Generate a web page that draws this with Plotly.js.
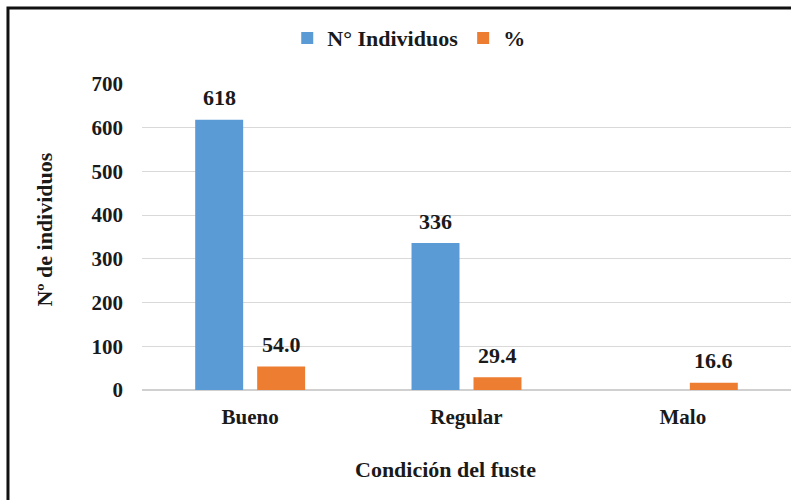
<!DOCTYPE html>
<html>
<head>
<meta charset="utf-8">
<script src="https://cdn.plot.ly/plotly-3.0.1.min.js"></script>
<style>html,body{margin:0;padding:0;background:#fff}#chart{width:791px;height:500px}</style>
</head>
<body>
<div id="chart"></div>
<script>
const categories = ["Bueno", "Regular", "Malo"];
const individuos = [618, 336, null];
const porcentaje = [54.0, 29.4, 16.6];
const seriesNames = ["N° Individuos", "%"];
const yTicks = [0, 100, 200, 300, 400, 500, 600, 700];

const FONT = "Liberation Serif";
const TXT = "#1a1a1a";

const traces = [
  {
    type: "bar", name: seriesNames[0], x: categories, y: individuos,
    marker: {color: "#5B9BD5"}, hoverinfo: "x+y"
  },
  {
    type: "bar", name: seriesNames[1], x: categories, y: porcentaje,
    marker: {color: "#ED7D31"}, hoverinfo: "x+y"
  }
];

const labelFont = {family: FONT, size: 22, color: TXT, weight: "bold"};
const annotations = [];
categories.forEach((c, i) => {
  if (individuos[i] != null) {
    annotations.push({x: c, y: individuos[i], xref: "x", yref: "y", xshift: -31, yshift: 22,
      text: String(individuos[i]), showarrow: false, yanchor: "middle", font: labelFont});
  }
  annotations.push({x: c, y: porcentaje[i], xref: "x", yref: "y", xshift: 31, yshift: 22,
    text: porcentaje[i].toFixed(1), showarrow: false, yanchor: "middle", font: labelFont});
});
annotations.push(
  {text: "Nº de individuos", xref: "paper", yref: "paper", x: -0.150, y: 0.523,
   xanchor: "center", yanchor: "middle", textangle: -90, showarrow: false,
   font: {family: FONT, size: 22, color: TXT, weight: "bold"}},
  {text: "Condición del fuste", xref: "paper", yref: "paper", x: 0.467, y: -0.261,
   xanchor: "center", yanchor: "middle", showarrow: false,
   font: {family: FONT, size: 22, color: TXT, weight: "bold"}}
);

const layout = {
  width: 791, height: 500,
  margin: {l: 142, r: 0, t: 84, b: 110},
  paper_bgcolor: "#fff", plot_bgcolor: "#fff",
  font: {family: FONT, color: TXT, size: 20, weight: "bold"},
  barmode: "group", bargap: 0.427, bargroupgap: 0.226,
  showlegend: true,
  legend: {orientation: "h", x: 0.411, xanchor: "center", y: 1.15, yanchor: "middle",
           font: {family: FONT, size: 22, color: TXT, weight: "bold"}, itemclick: false},
  xaxis: {
    type: "category", showgrid: false, showline: false, ticks: "",
    tickfont: {family: FONT, size: 21, color: TXT, weight: "bold"},
    ticklabelstandoff: 12
  },
  yaxis: {
    range: [0, 700], tickvals: yTicks, ticktext: yTicks.map(String),
    showgrid: true, gridcolor: "#d9d9d9", gridwidth: 1,
    zeroline: true, zerolinecolor: "#d0d0d0", zerolinewidth: 2,
    showline: false, ticks: "",
    tickfont: {family: FONT, size: 21, color: TXT, weight: "bold"},
    ticklabelstandoff: 18
  },
  annotations: annotations,
  shapes: [
    {type: "rect", xref: "paper", yref: "paper", x0: -0.2065, x1: 1.5, y0: -1, y1: 1.248,
     line: {color: "#111", width: 3}, fillcolor: "rgba(0,0,0,0)", layer: "above"}
  ]
};

Plotly.newPlot("chart", traces, layout, {displayModeBar: false, staticPlot: true});
</script>
</body>
</html>
